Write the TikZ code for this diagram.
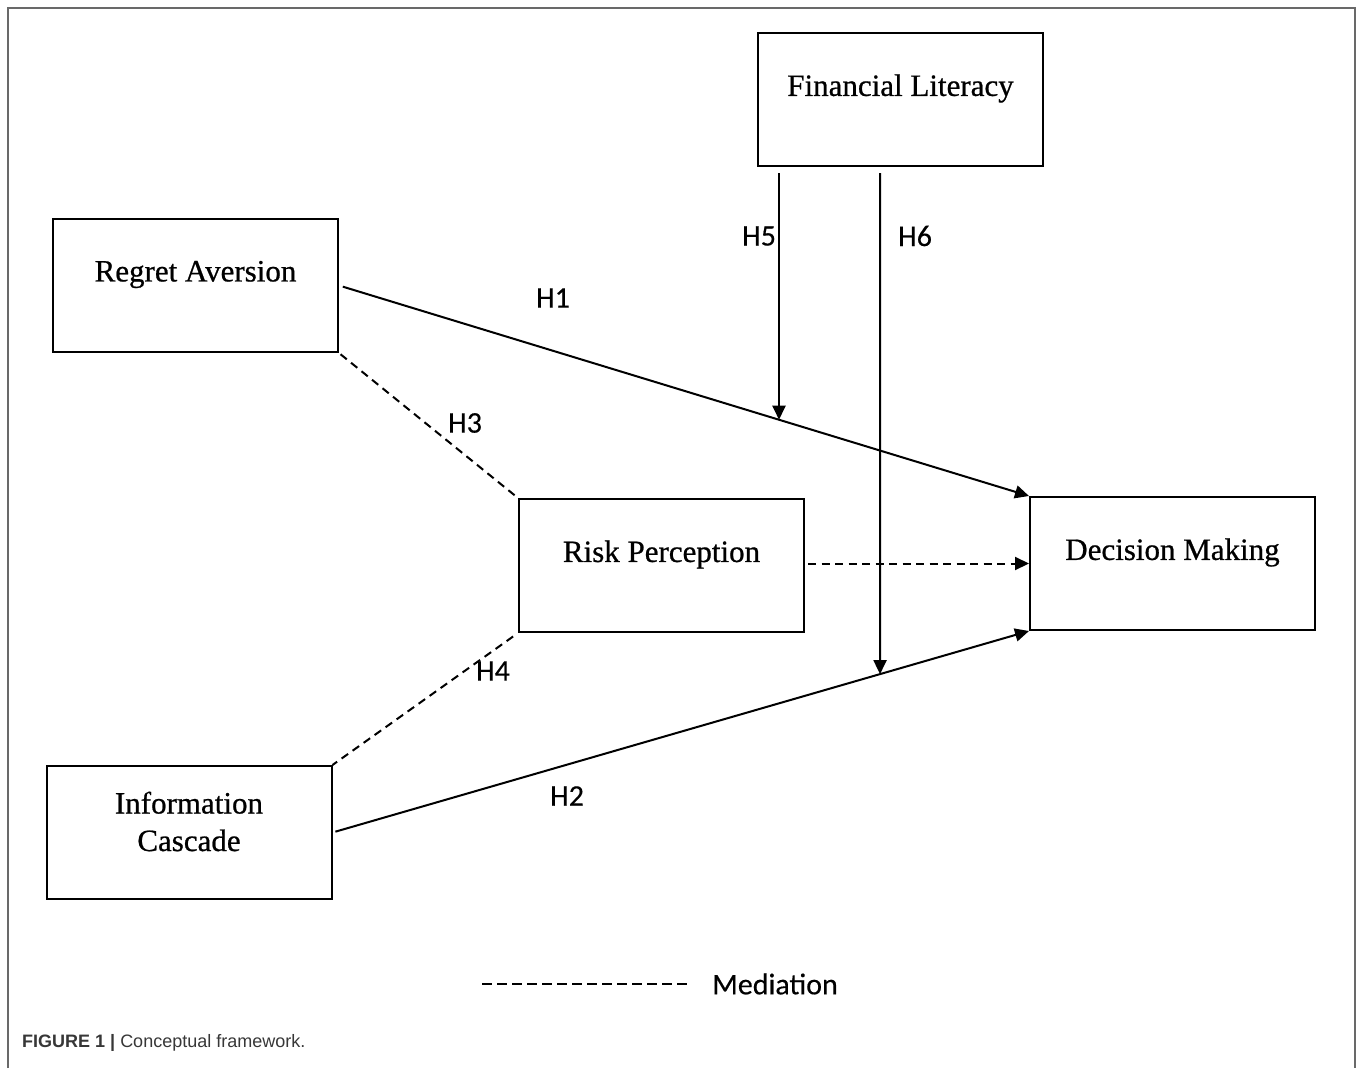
\documentclass[tikz,border=0pt]{standalone}
\usepackage{fontspec}
\setmainfont{Liberation Serif}
\newfontfamily\boxfont[FakeBold=0.7]{Liberation Serif}
\newfontfamily\lblfont[FakeBold=0.3]{Carlito}
\newfontfamily\capfont{Liberation Sans}
\usetikzlibrary{arrows.meta,calc}
\definecolor{framegray}{RGB}{105,105,105}
\definecolor{capgray}{RGB}{55,55,55}
\begin{document}
\begin{tikzpicture}[x=1pt,y=-1pt,
  box/.style={draw, line width=2pt, minimum width=285pt, minimum height=133pt, inner sep=0pt},
  boxtext/.style={font=\boxfont\fontsize{31}{38}\selectfont, align=center, inner sep=0pt},
  hlabel/.style={font=\lblfont\fontsize{30}{35}\selectfont, inner sep=0pt},
  conn/.style={line width=2pt},
  tipped/.style={-{Triangle[length=14pt,width=13pt]}},
  med/.style={dash pattern=on 8pt off 5.5pt}]
\useasboundingbox (0,0) rectangle (1357,1068);
% outer frame
\draw[framegray, line width=2.5pt] (8,1068) -- (8,8) -- (1355,8) -- (1355,1068);

% boxes
\node[box] (FL) at (900.5,99.5) {};
\node[box] (RA) at (195.5,285.5) {};
\node[box] (IC) at (189,832.5) {};
\node[box] (DM) at (1172.5,563.5) {};
\node[box] (RP) at (661.5,565.5) {};

% box texts
\node[boxtext] (FLt) at ($(FL.center)+(0,-11)$) {Financial Literacy};
\node[boxtext] (RAt) at ($(RA.center)+(0,-11)$) {Regret Aversion};
\node[boxtext] (DMt) at ($(DM.center)+(0,-11)$) {Decision Making};
\node[boxtext] (RPt) at ($(RP.center)+(0,-11)$) {Risk Perception};
\node[boxtext] (ICt) at ($(IC.center)+(0,-11)$) {Information\\[-0.5pt]Cascade};

% direct paths
\draw[conn, tipped, shorten <=4pt] (RA.east) -- (DM.north west);
\draw[conn, tipped, shorten <=3pt] (IC.east) -- (DM.south west);

% mediation paths
\draw[conn, med, shorten <=2pt] (RA.south east) -- (RP.north west);
\draw[conn, med, shorten <=6pt] (RP.south west) -- (IC.north east);
\coordinate (rpout) at ($(RP.east)+(3,-2)$);
\draw[conn, med, tipped] (rpout) -- (rpout -| DM.west);

% moderation paths
\coordinate (h5s) at ($(FL.south west)+(22,6)$);
\coordinate (h5b) at ($(FL.south west)+(22,700)$);
\coordinate (h6s) at ($(FL.south west)+(123,6)$);
\coordinate (h6b) at ($(FL.south west)+(123,800)$);
\draw[conn, tipped] (h5s) -- (intersection of RA.east--DM.north west and h5s--h5b);
\draw[conn, tipped] (h6s) -- (intersection of IC.east--DM.south west and h6s--h6b);

% labels
\node[hlabel] (H1) at (553,298) {H1};
\node[hlabel] (H2) at (567,796) {H2};
\node[hlabel] (H3) at (465,423) {H3};
\node[hlabel] (H4) at (493,671) {H4};
\node[hlabel] (H5) at (759,236) {H5};
\node[hlabel] (H6) at (915,236) {H6};

% legend
\coordinate (legA) at (482,984);
\coordinate (legB) at (690,984);
\draw[line width=2.5pt, dash pattern=on 10pt off 5pt] (legA) -- (legB);
\node[hlabel, anchor=west] (legT) at (712,984) {Mediation};

% caption
\node[anchor=base west, inner sep=0pt, text=capgray, font=\capfont\fontsize{18}{22}\selectfont] (cap) at (22,1047) {\textbf{FIGURE 1 |} Conceptual framework.};
\end{tikzpicture}
\end{document}
